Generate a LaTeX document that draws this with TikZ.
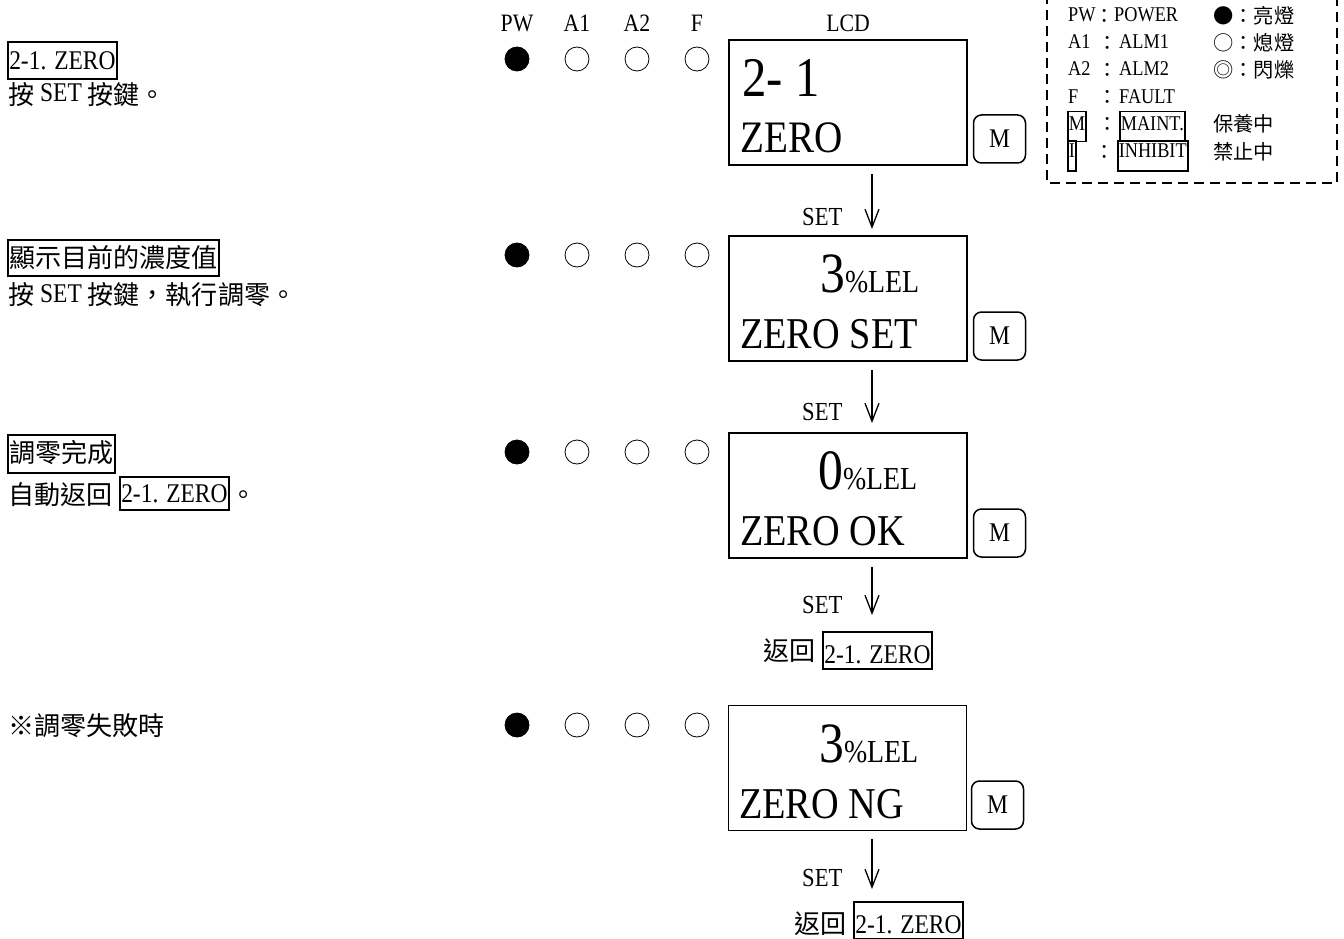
\documentclass[tikz,border=0pt]{standalone}
\usepackage{fontspec}
\setmainfont{Liberation Serif}[FakeStretch=0.87]
\newfontfamily\cjk{Noto Sans CJK TC}[Scale=0.965]
\newcommand\cj[1]{\raisebox{-0.08em}{\cjk #1}}
\usetikzlibrary{arrows.meta}
\tikzset{
 txt/.style={anchor=base west, inner sep=0pt, font=\fontsize{27}{32}\selectfont},
 hdr/.style={anchor=base, inner sep=0pt, font=\fontsize{25}{30}\selectfont},
 bx/.style={draw, line width=1.5pt, inner ysep=0pt, inner xsep=1.5pt, anchor=base west},
 led/.style={circle, draw, line width=0.8pt, minimum size=24pt, inner sep=0pt},
 ledon/.style={led, fill=black},
 lcd/.style={draw, line width=1.6pt, minimum width=238pt, minimum height=125pt, inner sep=0pt},
 lcdbig/.style={anchor=base west, inner sep=0pt},
 mbtn/.style={draw, line width=1.5pt, rounded corners=8pt, minimum width=52pt, minimum height=48pt, inner sep=0pt, font=\fontsize{27}{30}\selectfont},
 arr/.style={line width=1.3pt, -{Straight Barb[length=18pt,width=14pt]}},
 setlbl/.style={anchor=base west, inner sep=0pt, font=\fontsize{26}{30}\selectfont},
 lg/.style={anchor=base west, inner sep=0pt, font=\fontsize{21}{25}\selectfont},
 lgbx/.style={lg, draw, line width=1.5pt, inner ysep=0pt, inner xsep=1pt},
 dashbox/.style={line width=2pt, dash pattern=on 10pt off 6pt},
}
\begin{document}
\begin{tikzpicture}[x=1pt,y=-1pt]
\useasboundingbox (0,0) rectangle (1344,939);

% ---------- left column ----------
\node[txt,bx,text height=28pt,text depth=9pt] (t1) at (7,70) {2-1. ZERO};
\node[txt] (t1b) at (8,102) {\cj{按} SET \cj{按鍵。}};

\node[txt,bx,text height=25.5pt,text depth=10.5pt] (t2) at (7,265.5) {\cj{顯示目前的濃度值}};
\node[txt] (t2b) at (8,302) {\cj{按} SET \cj{按鍵，執行調零。}};

\node[txt,bx,text height=25pt,text depth=13pt] (t3) at (7,460) {\cj{調零完成}};
\node[txt] (t3b) at (8,502) {\cj{自動返回}};
\node[txt,bx,text height=25pt,text depth=8pt] (t3c) at (119,502) {2-1. ZERO};
\node[txt] (t3d) at (t3c.base east) {\cj{。}};

\node[txt] (t4) at (8,733) {\cj{※調零失敗時}};

% ---------- header ----------
\node[hdr] (hpw) at (517,32) {PW};
\node[hdr] (ha1) at (577,32) {A1};
\node[hdr] (ha2) at (637,32) {A2};
\node[hdr] (hf)  at (697,32) {F};
\node[hdr] (hlcd) at (848,32) {LCD};

% ---------- LEDs ----------
\foreach \r/\y in {1/59,2/255,3/452,4/725}{
  \node[ledon] (pw\r) at (517,\y) {};
  \node[led] (aa\r) at (577,\y) {};
  \node[led] (ab\r) at (637,\y) {};
  \node[led] (ff\r) at (697,\y) {};
}

% ---------- LCD boxes ----------
\node[lcd] (lcd1) at (848,102.5) {};
\node[lcd] (lcd2) at (848,298.5) {};
\node[lcd] (lcd3) at (848,495.5) {};
\node[lcd] (lcd4) at (847.5,768) {};

\node[lcdbig,font=\fontsize{56}{62}\selectfont] (l1a) at (742,97) {2-\hspace{0.22em}1};
\node[lcdbig,font=\fontsize{45}{50}\selectfont] (l1b) at (740,153) {ZERO};

\node[lcdbig] (l2a) at (820,292) {\fontsize{57}{60}\selectfont 3\fontsize{32}{36}\selectfont\%LEL};
\node[lcdbig,font=\fontsize{44}{50}\selectfont] (l2b) at (740,348) {ZERO SET};

\node[lcdbig] (l3a) at (818,489) {\fontsize{57}{60}\selectfont 0\fontsize{32}{36}\selectfont\%LEL};
\node[lcdbig,font=\fontsize{44}{50}\selectfont] (l3b) at (740,545) {ZERO OK};

\node[lcdbig] (l4a) at (819,762) {\fontsize{57}{60}\selectfont 3\fontsize{32}{36}\selectfont\%LEL};
\node[lcdbig,font=\fontsize{44}{50}\selectfont] (l4b) at (739,818) {ZERO NG};

% ---------- M buttons ----------
\node[mbtn] (m1) at (999.5,139) {M};
\node[mbtn] (m2) at (999.5,336) {M};
\node[mbtn] (m3) at (999.5,533) {M};
\node[mbtn] (m4) at (997.5,805) {M};

% ---------- arrows ----------
\coordinate (ar1s) at (872,174);
\coordinate (ar1e) at (872,229);
\coordinate (ar2s) at (872,370);
\coordinate (ar2e) at (872,423);
\coordinate (ar3s) at (872,567);
\coordinate (ar3e) at (872,615);
\coordinate (ar4s) at (872,839);
\coordinate (ar4e) at (872,889);
\draw[arr] (ar1s) -- (ar1e);
\draw[arr] (ar2s) -- (ar2e);
\draw[arr] (ar3s) -- (ar3e);
\draw[arr] (ar4s) -- (ar4e);

\node[setlbl] (s1) at (802,225) {SET};
\node[setlbl] (s2) at (802,420) {SET};
\node[setlbl] (s3) at (802,613) {SET};
\node[setlbl] (s4) at (802,886) {SET};

% ---------- return labels ----------
\node[txt] (r3) at (763,658) {\cj{返回}};
\node[txt,bx,text height=31pt,text depth=6pt] (r3b) at (822,663) {2-1. ZERO};
\node[txt] (r4) at (794,931.5) {\cj{返回}};
\node[txt,bx,text height=31pt,text depth=6pt] (r4b) at (853,933) {2-1. ZERO};

% ---------- legend ----------
\draw[dashbox] (1047,-6) -- (1047,183) -- (1337,183) -- (1337,-6);

\node[lg] (kpw) at (1068,21.5) {PW};
\node[lg] (cpw) at (1094,21.5) {\cj{：}};
\node[lg] (vpw) at (1114,21.5) {POWER};

\node[lg] (ka1) at (1068,48.7) {A1};
\node[lg] (ca1) at (1097,48.7) {\cj{：}};
\node[lg] (va1) at (1119,48.7) {ALM1};

\node[lg] (ka2) at (1068,75.9) {A2};
\node[lg] (ca2) at (1097,75.9) {\cj{：}};
\node[lg] (va2) at (1119,75.9) {ALM2};

\node[lg] (kf) at (1068,103.1) {F};
\node[lg] (cf) at (1097,103.1) {\cj{：}};
\node[lg] (vf) at (1119,103.1) {FAULT};

\node[lgbx,text height=19pt,text depth=11pt] (km) at (1067,130.3) {M};
\node[lg] (cm) at (1097,130.3) {\cj{：}};
\node[lgbx,text height=19pt,text depth=11pt] (vm) at (1119,130.3) {MAINT.};

\node[lgbx,text height=16.5pt,text depth=13.5pt] (ki) at (1067,157.5) {I};
\node[lg] (ci) at (1094,157.5) {\cj{：}};
\node[lgbx,text height=16.5pt,text depth=13.5pt] (vi) at (1117,157.5) {INHIBIT};

\node[lg] (on) at (1213,21.5) {\cj{●：亮燈}};
\node[lg] (off) at (1213,48.7) {\cj{○：熄燈}};
\node[lg] (blk) at (1213,75.9) {\cj{◎：閃爍}};
\node[lg] (mnt) at (1213,130.3) {\cj{保養中}};
\node[lg] (inh) at (1213,157.5) {\cj{禁止中}};
\end{tikzpicture}
\end{document}
